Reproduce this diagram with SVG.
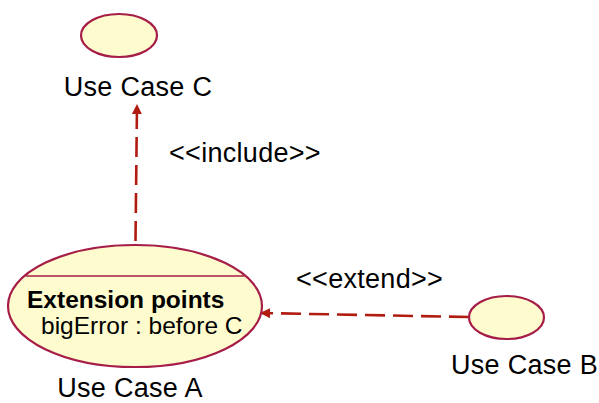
<svg xmlns="http://www.w3.org/2000/svg" width="599" height="403" viewBox="0 0 599 403">
<defs>
<style>
.uc{fill:#fefccf;stroke:#a61e48;stroke-width:2.2}
.lbl{font-family:"Liberation Sans",Arial,sans-serif;font-size:27px;letter-spacing:0.3px;fill:#000}
.cmp{font-family:"Liberation Sans",Arial,sans-serif;font-size:24.5px;fill:#000}
.dep{fill:none;stroke:#b01c10;stroke-width:2.6;stroke-dasharray:20 8}
</style>
<marker id="ah" viewBox="0 0 10 10" refX="10" refY="5" markerWidth="4" markerHeight="4" orient="auto" markerUnits="strokeWidth">
<path d="M0,0 L10,5 L0,10 z" fill="#b01c10"/>
</marker>
</defs>
<rect width="599" height="403" fill="#fff"/>
<g id="connectors">
<path class="dep" d="M135.5,241 L137,104" marker-end="url(#ah)"/>
<text class="lbl" x="169" y="162">&lt;&lt;include&gt;&gt;</text>
<path class="dep" d="M469,317 L260,313" marker-end="url(#ah)"/>
<text class="lbl" x="296" y="288">&lt;&lt;extend&gt;&gt;</text>
</g>
<g id="useCaseC">
<ellipse class="uc" cx="119" cy="35.5" rx="38" ry="21.5"/>
<text class="lbl" x="138" y="96" text-anchor="middle">Use Case C</text>
</g>
<g id="useCaseA">
<ellipse class="uc" cx="135" cy="306" rx="127" ry="61"/>
<line x1="26" y1="276" x2="244" y2="276" stroke="#a61e48" stroke-width="1.6"/>
<text class="cmp" x="27" y="308" font-weight="bold">Extension points</text>
<text class="cmp" x="41" y="334">bigError : before C</text>
<text class="lbl" x="130" y="397" text-anchor="middle">Use Case A</text>
</g>
<g id="useCaseB">
<ellipse class="uc" cx="506.5" cy="317.5" rx="37.5" ry="21.5"/>
<text class="lbl" x="524.5" y="374" text-anchor="middle">Use Case B</text>
</g>
</svg>
